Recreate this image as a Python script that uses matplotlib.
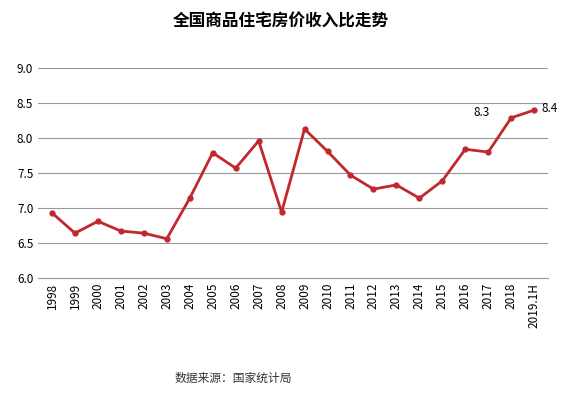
import matplotlib
matplotlib.use("Agg")
import matplotlib.pyplot as plt

plt.rcParams['font.family'] = ['Noto Sans CJK SC', 'DejaVu Sans']

years = ['1998', '1999', '2000', '2001', '2002', '2003', '2004', '2005', '2006', '2007', '2008',
         '2009', '2010', '2011', '2012', '2013', '2014', '2015', '2016', '2017', '2018', '2019.1H']
ratio = [6.93, 6.64, 6.81, 6.67, 6.64, 6.56, 7.14, 7.79, 7.57, 7.96, 6.94,
         8.13, 7.81, 7.47, 7.27, 7.33, 7.14, 7.39, 7.84, 7.80, 8.29, 8.40]

fig = plt.figure(figsize=(5.62, 4.01), dpi=100)
ax = fig.add_axes([0.068, 0.307, 0.907, 0.523])

x = list(range(len(years)))
ax.plot(x, ratio, color='#C0282D', linewidth=2, marker='o', markersize=3.5)

ax.set_ylim(6.0, 9.0)
ax.set_yticks([6.0, 6.5, 7.0, 7.5, 8.0, 8.5, 9.0])
ax.set_yticklabels([f"{v:.1f}" for v in ax.get_yticks()], fontsize=8.5)
ax.set_xlim(-0.6, len(years) - 0.4)
ax.set_xticks(x)
ax.set_xticklabels(years, rotation=90, fontsize=8.5)
ax.tick_params(length=0)
ax.grid(axis='y', color='#999999', linewidth=0.8)
ax.set_axisbelow(True)
for s in ['top', 'right', 'left']:
    ax.spines[s].set_visible(False)
ax.spines['bottom'].set_color('#999999')

ax.annotate('8.3', (x[-2], ratio[-2]), xytext=(-27, 1), textcoords='offset points', fontsize=8.5)
ax.annotate('8.4', (x[-1], ratio[-1]), xytext=(5, -1), textcoords='offset points', fontsize=8.5)

fig.text(0.5, 0.945, '全国商品住宅房价收入比走势', ha='center', va='center',
         fontsize=12, fontweight='bold', family=['Noto Sans CJK SC'])
fig.text(0.31, 0.057, '数据来源：国家统计局', ha='left', va='center', fontsize=8.5, color='#333333')

fig.savefig('out.png', dpi=100)
